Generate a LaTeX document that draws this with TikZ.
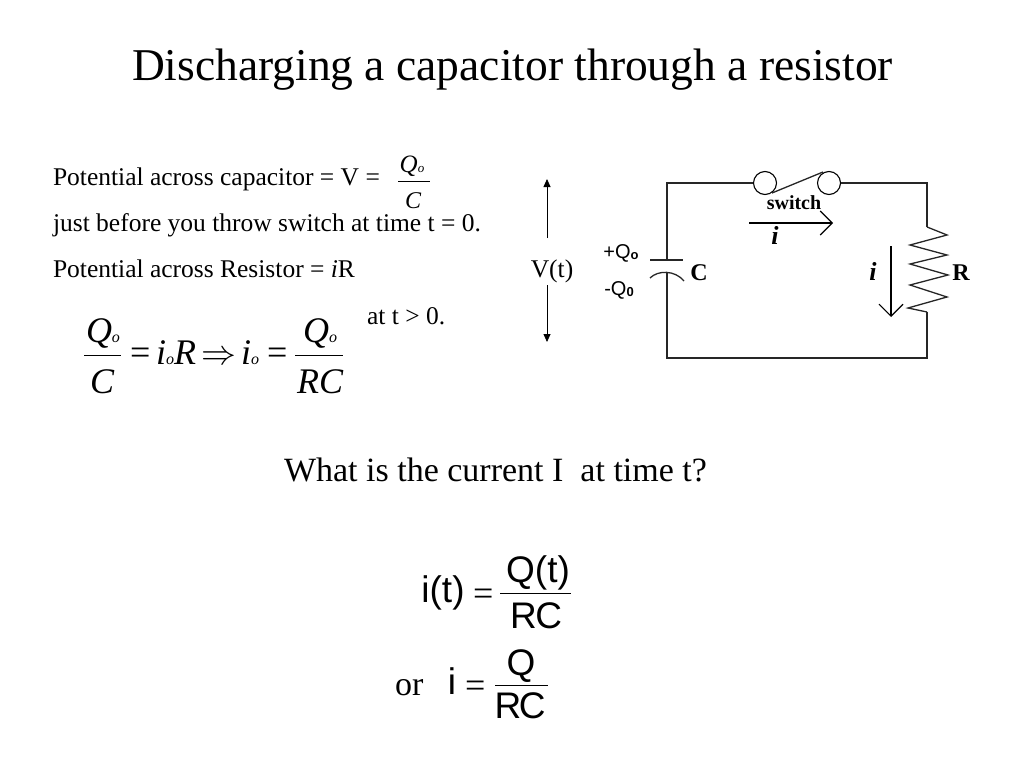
\documentclass[tikz,border=0pt]{standalone}
\usepackage{fontspec}
\usepackage{graphicx}
\setmainfont{Liberation Serif}
\setsansfont{Liberation Sans}
\usetikzlibrary{arrows.meta}
\newcommand{\fsize}[1]{\fontsize{#1}{#1}\selectfont}
\tikzset{
  lbl/.style={inner sep=0pt, outer sep=0pt, anchor=base west},
  mid/.style={inner sep=0pt, outer sep=0pt, anchor=base},
  titletext/.style={lbl, font=\fsize{45.5}},
  bodytext/.style={lbl, font=\fsize{25.5}},
  bigtext/.style={lbl, font=\fsize{34}},
  smallmath/.style={mid, font=\fsize{25}\itshape},
  bigmath/.style={lbl, font=\fsize{36}\itshape},
  sanstext/.style={mid, font=\fsize{37}\sffamily},
  circtext/.style={mid, font=\fsize{20}\bfseries},
  wire/.style={line width=1.3pt, black!85},
  fracbar/.style={line width=0.9pt},
  barb/.style={-{Straight Barb[length=12pt,width=24pt,line width=1.1pt]}, line width=1.1pt},
  vtarrow/.style={-{Triangle[length=8pt,width=7pt]}, line width=0.8pt}
}
\begin{document}
\begin{tikzpicture}[x=1pt,y=-1pt]
  \useasboundingbox (0,0) rectangle (1024,768);

  \node[titletext] (title) at (132,80) {Discharging a capacitor through a resistor};

  % left column
  \node[bodytext] (capline) at (53,185) {Potential across capacitor = V =};
  \node[bodytext] (swline) at (53,231) {just before you throw switch at time t = 0.};
  \node[bodytext] (resline) at (53,277) {Potential across Resistor = \textit{i}R};
  \node[bodytext] (atline) at (367,324) {at t > 0.};

  \node[smallmath] (qtop) at (412,172) {Q{\fsize{13}o}};
  \node[smallmath, font=\fsize{24}\itshape] (ctop) at (413,208) {C};
  \coordinate (fa) at (398,181);
  \coordinate (fb) at (430,181);
  \draw[fracbar] (fa) -- (fb);

  % big equation
  \node[bigmath] (q1) at (86,342) {Q{\fsize{16}o}};
  \node[bigmath] (c1) at (90,393) {C};
  \coordinate (ga) at (84,355);
  \coordinate (gb) at (121,355);
  \draw[fracbar] (ga) -- (gb);
  \node[bigmath] (eq1) at (130,364) {\upshape =};
  \node[bigmath] (i1) at (156,364) {i{\fsize{16}o}R};
  \node[bigmath] (imp) at (201,364) {\scalebox{1.4}{\upshape$\Rightarrow$}};
  \node[bigmath] (i2) at (241,364) {i{\fsize{16}o}};
  \node[bigmath] (eq2) at (267,364) {\upshape =};
  \node[bigmath] (q2) at (303,342) {Q{\fsize{16}o}};
  \node[bigmath] (rc1) at (297,393) {RC};
  \coordinate (ha) at (295,355);
  \coordinate (hb) at (343,355);
  \draw[fracbar] (ha) -- (hb);

  % voltage arrows
  \node[bodytext, anchor=base] (vt) at (552,277) {V(t)};
  \coordinate (vup) at (547,179);
  \coordinate (vupb) at (547,238);
  \coordinate (vdn) at (547,342);
  \coordinate (vdnb) at (547,285);
  \draw[vtarrow] (vupb) -- (vup);
  \draw[vtarrow] (vdnb) -- (vdn);

  % circuit
  \node[circle, draw, line width=1.1pt, minimum size=23pt, inner sep=0pt] (s1) at (765,183) {};
  \node[circle, draw, line width=1.1pt, minimum size=23pt, inner sep=0pt] (s2) at (829,183) {};
  \coordinate (tl) at (667,183);
  \coordinate (tr) at (927,183);
  \coordinate (bl) at (667,358);
  \coordinate (br) at (927,358);
  \coordinate (pt) at (667,260);
  \coordinate (pb) at (667,272);
  \coordinate (ra) at (927,227);
  \coordinate (rb) at (927,312);
  \draw[wire] (s1.west) -- (tl) -- (pt);
  \draw[wire] (pb) -- (bl) -- (br) -- (rb);
  \draw[wire] (s2.east) -- (tr) -- (ra);
  \draw[wire] (ra) -- (947,235) -- (910,245) -- (947,255) -- (910,264) -- (948,275)
    -- (910,285) -- (947,297) -- (908,308) -- (rb);
  \draw[wire] (772,193) -- (823,172);
  \draw[wire] (650,260) -- (683,260);
  \draw[wire] (650,278) .. controls (658,270) and (675,270) .. (684,281);

  \node[circtext] (swlbl) at (794,209) {switch};
  \coordinate (ia) at (749,223);
  \coordinate (ib) at (833,223);
  \draw[barb] (ia) -- (ib);
  \node[circtext, font=\fsize{26}\bfseries\itshape] (ilbl) at (775,244) {i};
  \coordinate (ic) at (891,246);
  \coordinate (id) at (891,317);
  \draw[barb] (ic) -- (id);
  \node[circtext, font=\fsize{26}\bfseries\itshape] (irlbl) at (873,280) {i};
  \node[circtext, font=\fsize{24}\bfseries] (rlbl) at (961,280) {R};
  \node[circtext, font=\fsize{24}\bfseries] (clbl) at (699,280) {C};
  \node[circtext, font=\fsize{20}\sffamily] (qp) at (621,258) {+Q\raisebox{-1pt}{\fsize{13}\bfseries o}};
  \node[circtext, font=\fsize{20}\sffamily] (qm) at (619,295) {-Q\raisebox{-1pt}{\fsize{13}\bfseries 0}};

  % question
  \node[bigtext] (ask) at (284,481) {What is the current I~ at time t?};

  \node[sanstext] (it) at (443,602) {i(t)};
  \node[bigmath] (eq3) at (473,605) {\upshape =};
  \node[sanstext] (qt) at (538,582) {Q(t)};
  \node[sanstext] (rc2) at (536,628) {R\kern-1.5pt C};
  \coordinate (ja) at (500,593);
  \coordinate (jb) at (571,593);
  \draw[fracbar] (ja) -- (jb);

  \node[bigtext] (orlbl) at (395,695) {or};
  \node[sanstext] (i3) at (452,694) {i};
  \node[bigmath] (eq4) at (465,697) {\upshape =};
  \node[sanstext] (q3) at (521,675) {Q};
  \node[sanstext] (rc3) at (520,718) {R\kern-2.5pt C};
  \coordinate (ka) at (495,685);
  \coordinate (kb) at (548,685);
  \draw[fracbar] (ka) -- (kb);
\end{tikzpicture}
\end{document}
